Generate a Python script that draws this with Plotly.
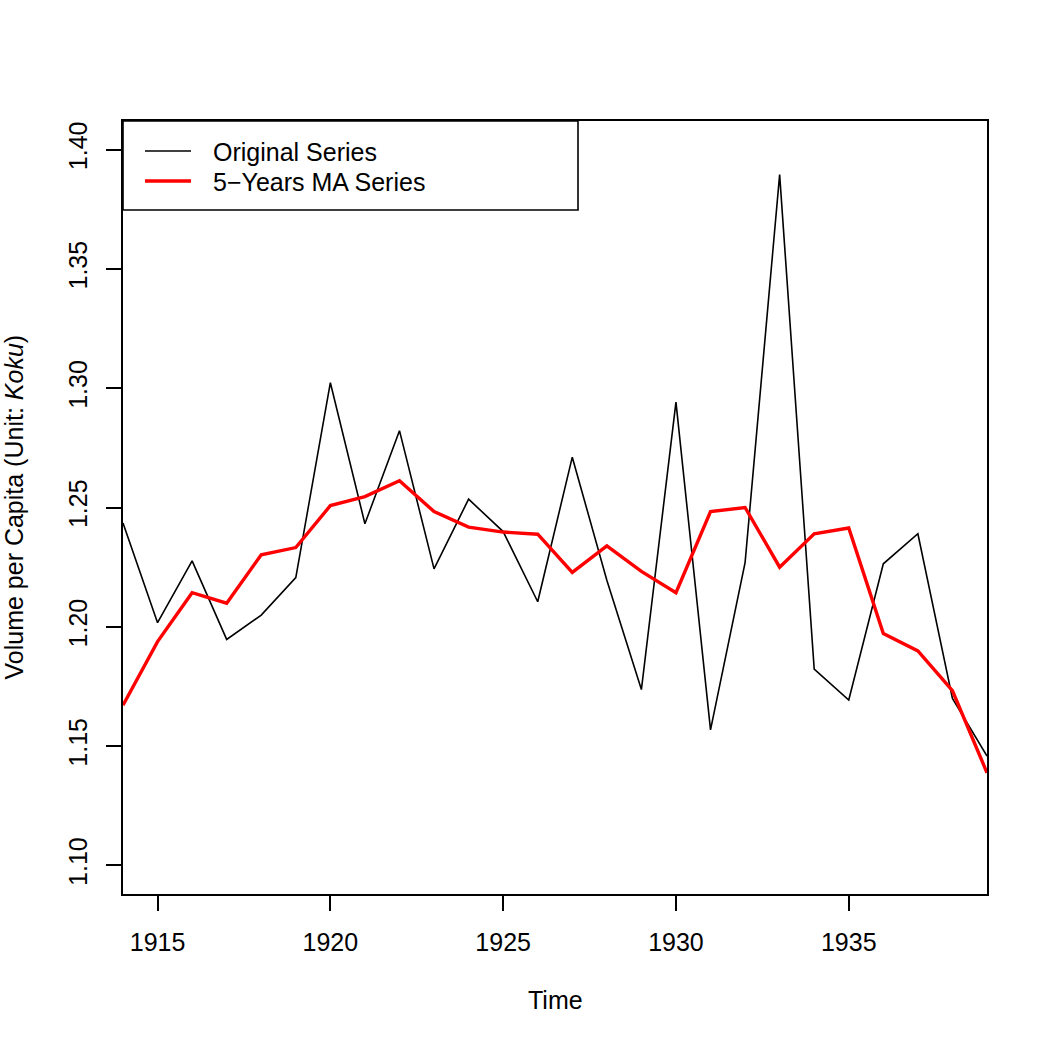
import plotly.graph_objects as go

years = list(range(1914, 1940))
original = [1.2435, 1.2017, 1.2276, 1.1947, 1.2049, 1.2206, 1.3023, 1.2432, 1.2822,
            1.2243, 1.2535, 1.2399, 1.2105, 1.2711, 1.2195, 1.1737, 1.2942, 1.1568,
            1.2269, 1.3895, 1.1823, 1.1693, 1.2264, 1.2390, 1.1700, 1.1458]
ma5 = [1.1671, 1.1938, 1.2143, 1.2099, 1.2302, 1.2332, 1.2508, 1.2546, 1.2612,
       1.2483, 1.2418, 1.2397, 1.2388, 1.2228, 1.2339, 1.2232, 1.2143, 1.2483,
       1.2500, 1.2250, 1.2390, 1.2414, 1.1972, 1.1899, 1.1732, 1.1388]

x_ticks = [1915, 1920, 1925, 1930, 1935]
y_ticks = [1.10, 1.15, 1.20, 1.25, 1.30, 1.35, 1.40]
series_names = ["Original Series", "5\u2212Years MA Series"]

FONT = "Liberation Sans, Arial, Helvetica, sans-serif"
FS = 25

W, H = 1048, 1048
L, R, T, B = 123, 61, 121, 154
PW, PH = W - L - R, H - T - B

def px_x(p):
    return (p - L) / PW

def px_y(p):
    return (H - B - p) / PH

fig = go.Figure()
fig.add_trace(go.Scatter(x=years, y=original, mode="lines", name=series_names[0],
                         line=dict(color="black", width=1.6), showlegend=False))
fig.add_trace(go.Scatter(x=years, y=ma5, mode="lines", name=series_names[1],
                         line=dict(color="#FF0000", width=3.4), showlegend=False))

axis_common = dict(showline=True, linecolor="black", linewidth=2, mirror=True,
                   ticks="outside", ticklen=15, tickwidth=2, tickcolor="black",
                   showgrid=False, zeroline=False,
                   tickfont=dict(family=FONT, size=FS, color="black"))

fig.update_xaxes(range=[1914, 1939], tickvals=x_ticks, ticktext=[str(v) for v in x_ticks],
                 ticklabelstandoff=10, **axis_common)
fig.update_yaxes(range=[1.088, 1.412], tickvals=y_ticks, ticktext=[f"{v:.2f}" for v in y_ticks],
                 tickangle=-90, ticklabelstandoff=9, **axis_common)

# legend box
shapes = [
    dict(type="rect", xref="paper", yref="paper", x0=0, x1=px_x(578), y0=px_y(210), y1=1,
         line=dict(color="black", width=1.6), fillcolor="white", layer="above"),
    dict(type="line", xref="paper", yref="paper", x0=px_x(145), x1=px_x(191),
         y0=px_y(151), y1=px_y(151), line=dict(color="black", width=1.6), layer="above"),
    dict(type="line", xref="paper", yref="paper", x0=px_x(145), x1=px_x(191),
         y0=px_y(181), y1=px_y(181), line=dict(color="#FF0000", width=3.4), layer="above"),
]

annotations = [
    dict(text=series_names[0], xref="paper", yref="paper", x=px_x(211), y=px_y(152),
         xanchor="left", yanchor="middle", showarrow=False,
         font=dict(family=FONT, size=FS, color="black")),
    dict(text=series_names[1], xref="paper", yref="paper", x=px_x(211), y=px_y(182),
         xanchor="left", yanchor="middle", showarrow=False,
         font=dict(family=FONT, size=FS, color="black")),
    dict(text="Time", xref="paper", yref="paper", x=0.5, y=px_y(1000),
         xanchor="center", yanchor="middle", showarrow=False,
         font=dict(family=FONT, size=FS, color="black")),
    dict(text="Volume per Capita (Unit: <i>Koku</i>)", xref="paper", yref="paper",
         x=px_x(13), y=0.5, xanchor="center", yanchor="middle", textangle=-90,
         showarrow=False, font=dict(family=FONT, size=FS, color="black")),
]

fig.update_layout(width=W, height=H, margin=dict(l=L, r=R, t=T, b=B, autoexpand=False),
                  paper_bgcolor="white", plot_bgcolor="white",
                  shapes=shapes, annotations=annotations, showlegend=False)

fig.write_html("out.html")
